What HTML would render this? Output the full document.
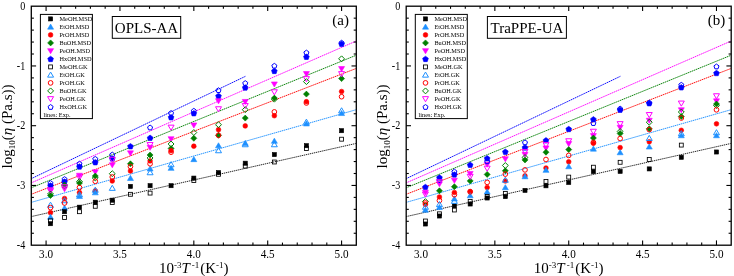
<!DOCTYPE html>
<html><head><meta charset="utf-8"><style>
html,body{margin:0;padding:0;background:#fff;}
svg{display:block;will-change:transform;}
text{font-family:"Liberation Serif",serif;fill:#000;}
.tl{font-size:11.5px;}
.tly{font-size:11px;}
.lg{font-size:6.3px;}
.tt{font-size:15px;}
.tg{font-size:15px;}
.al{font-size:15px;}
.sup{font-size:9px;}
.sub{font-size:9px;}
</style></head><body>
<svg width="734" height="276" viewBox="0 0 734 276">
<clipPath id="clip0"><rect x="31.3" y="6.2" width="325.0" height="239.0"/></clipPath>
<g clip-path="url(#clip0)">
<line x1="31.20" y1="216.6" x2="355.80" y2="143.5" stroke="#000000" stroke-width="0.85" stroke-dasharray="1.4 0.7"/>
<line x1="31.20" y1="202.4" x2="355.80" y2="109.8" stroke="#1E90FF" stroke-width="0.95" stroke-dasharray="1.5 0.6"/>
<line x1="31.20" y1="194.3" x2="355.80" y2="68.6" stroke="#FF0000" stroke-width="0.95" stroke-dasharray="1.5 0.6"/>
<line x1="31.20" y1="187.8" x2="355.80" y2="55.4" stroke="#008000" stroke-width="0.95" stroke-dasharray="1.5 0.6"/>
<line x1="31.20" y1="182.9" x2="355.80" y2="41.2" stroke="#FF00FF" stroke-width="0.95" stroke-dasharray="1.5 0.6"/>
<line x1="31.20" y1="178.7" x2="245.70" y2="76.2" stroke="#0000FF" stroke-width="0.95" stroke-dasharray="1.5 0.6"/>
<polygon points="50.51,182.80 53.36,184.87 52.27,188.23 48.74,188.23 47.65,184.87" fill="#0000FF" stroke="#0000FF" stroke-width="0.6"/>
<polygon points="50.51,193.85 47.51,188.75 53.51,188.75" fill="#FF00FF" stroke="#FF00FF" stroke-width="0.6"/>
<polygon points="50.51,192.50 53.51,195.50 50.51,198.50 47.51,195.50" fill="#008000" stroke="#008000" stroke-width="0.6"/>
<circle cx="50.51" cy="212.70" r="2.35" fill="#FF0000" stroke="#FF0000" stroke-width="0.6"/>
<polygon points="50.51,214.15 47.51,219.25 53.51,219.25" fill="#1E90FF" stroke="#1E90FF" stroke-width="0.6"/>
<rect x="48.46" y="221.65" width="4.1" height="4.1" fill="#000000" stroke="#000000" stroke-width="0.6"/>
<polygon points="50.51,180.65 53.03,182.48 52.07,185.44 48.95,185.44 47.99,182.48" fill="none" stroke="#0000FF" stroke-width="1.0"/>
<polygon points="50.51,192.85 47.51,187.75 53.51,187.75" fill="none" stroke="#FF00FF" stroke-width="1.0"/>
<polygon points="50.51,191.05 53.46,194.00 50.51,196.95 47.56,194.00" fill="none" stroke="#008000" stroke-width="1.0"/>
<polygon points="50.51,202.15 47.51,207.25 53.51,207.25" fill="none" stroke="#1E90FF" stroke-width="1.0"/>
<circle cx="50.51" cy="207.60" r="2.35" fill="none" stroke="#FF0000" stroke-width="1.0"/>
<rect x="48.56" y="218.85" width="3.9" height="3.9" fill="none" stroke="#000000" stroke-width="0.85"/>
<polygon points="64.54,178.80 67.40,180.87 66.31,184.23 62.78,184.23 61.69,180.87" fill="#0000FF" stroke="#0000FF" stroke-width="0.6"/>
<polygon points="64.54,182.00 67.54,185.00 64.54,188.00 61.54,185.00" fill="#008000" stroke="#008000" stroke-width="0.6"/>
<polygon points="64.54,191.85 61.54,186.75 67.54,186.75" fill="#FF00FF" stroke="#FF00FF" stroke-width="0.6"/>
<circle cx="64.54" cy="198.50" r="2.35" fill="#FF0000" stroke="#FF0000" stroke-width="0.6"/>
<polygon points="64.54,205.15 61.54,210.25 67.54,210.25" fill="#1E90FF" stroke="#1E90FF" stroke-width="0.6"/>
<rect x="62.49" y="209.65" width="4.1" height="4.1" fill="#000000" stroke="#000000" stroke-width="0.6"/>
<polygon points="64.54,176.65 67.06,178.48 66.10,181.44 62.99,181.44 62.02,178.48" fill="none" stroke="#0000FF" stroke-width="1.0"/>
<polygon points="64.54,183.05 67.49,186.00 64.54,188.95 61.59,186.00" fill="none" stroke="#008000" stroke-width="1.0"/>
<polygon points="64.54,189.85 61.54,184.75 67.54,184.75" fill="none" stroke="#FF00FF" stroke-width="1.0"/>
<polygon points="64.54,197.65 61.54,202.75 67.54,202.75" fill="none" stroke="#1E90FF" stroke-width="1.0"/>
<circle cx="64.54" cy="203.00" r="2.35" fill="none" stroke="#FF0000" stroke-width="1.0"/>
<rect x="62.59" y="215.55" width="3.9" height="3.9" fill="none" stroke="#000000" stroke-width="0.85"/>
<polygon points="79.47,163.80 82.32,165.87 81.23,169.23 77.70,169.23 76.61,165.87" fill="#0000FF" stroke="#0000FF" stroke-width="0.6"/>
<polygon points="79.47,178.35 76.47,173.25 82.47,173.25" fill="#FF00FF" stroke="#FF00FF" stroke-width="0.6"/>
<polygon points="79.47,180.00 82.47,183.00 79.47,186.00 76.47,183.00" fill="#008000" stroke="#008000" stroke-width="0.6"/>
<circle cx="79.47" cy="192.50" r="2.35" fill="#FF0000" stroke="#FF0000" stroke-width="0.6"/>
<polygon points="79.47,193.35 76.47,198.45 82.47,198.45" fill="#1E90FF" stroke="#1E90FF" stroke-width="0.6"/>
<rect x="77.42" y="205.15" width="4.1" height="4.1" fill="#000000" stroke="#000000" stroke-width="0.6"/>
<polygon points="79.47,161.25 81.99,163.08 81.02,166.04 77.91,166.04 76.95,163.08" fill="none" stroke="#0000FF" stroke-width="1.0"/>
<polygon points="79.47,180.05 76.47,174.95 82.47,174.95" fill="none" stroke="#FF00FF" stroke-width="1.0"/>
<polygon points="79.47,178.65 82.42,181.60 79.47,184.55 76.52,181.60" fill="none" stroke="#008000" stroke-width="1.0"/>
<circle cx="79.47" cy="187.50" r="2.35" fill="none" stroke="#FF0000" stroke-width="1.0"/>
<polygon points="79.47,191.65 76.47,196.75 82.47,196.75" fill="none" stroke="#1E90FF" stroke-width="1.0"/>
<rect x="77.52" y="209.75" width="3.9" height="3.9" fill="none" stroke="#000000" stroke-width="0.85"/>
<polygon points="95.28,159.50 98.13,161.57 97.04,164.93 93.51,164.93 92.42,161.57" fill="#0000FF" stroke="#0000FF" stroke-width="0.6"/>
<polygon points="95.28,174.85 92.28,169.75 98.28,169.75" fill="#FF00FF" stroke="#FF00FF" stroke-width="0.6"/>
<polygon points="95.28,173.00 98.28,176.00 95.28,179.00 92.28,176.00" fill="#008000" stroke="#008000" stroke-width="0.6"/>
<circle cx="95.28" cy="190.80" r="2.35" fill="#FF0000" stroke="#FF0000" stroke-width="0.6"/>
<polygon points="95.28,189.75 92.28,194.85 98.28,194.85" fill="#1E90FF" stroke="#1E90FF" stroke-width="0.6"/>
<rect x="93.23" y="200.15" width="4.1" height="4.1" fill="#000000" stroke="#000000" stroke-width="0.6"/>
<polygon points="95.28,156.45 97.80,158.28 96.83,161.24 93.72,161.24 92.76,158.28" fill="none" stroke="#0000FF" stroke-width="1.0"/>
<polygon points="95.28,175.05 98.23,178.00 95.28,180.95 92.33,178.00" fill="none" stroke="#008000" stroke-width="1.0"/>
<circle cx="95.28" cy="181.30" r="2.35" fill="none" stroke="#FF0000" stroke-width="1.0"/>
<polygon points="95.28,187.15 92.28,192.25 98.28,192.25" fill="none" stroke="#1E90FF" stroke-width="1.0"/>
<rect x="93.33" y="204.35" width="3.9" height="3.9" fill="none" stroke="#000000" stroke-width="0.85"/>
<polygon points="112.27,155.70 115.12,157.77 114.03,161.13 110.50,161.13 109.41,157.77" fill="#0000FF" stroke="#0000FF" stroke-width="0.6"/>
<polygon points="112.27,167.85 109.27,162.75 115.27,162.75" fill="#FF00FF" stroke="#FF00FF" stroke-width="0.6"/>
<circle cx="112.27" cy="181.00" r="2.35" fill="#FF0000" stroke="#FF0000" stroke-width="0.6"/>
<rect x="110.22" y="198.15" width="4.1" height="4.1" fill="#000000" stroke="#000000" stroke-width="0.6"/>
<polygon points="112.27,152.15 114.79,153.98 113.82,156.94 110.71,156.94 109.75,153.98" fill="none" stroke="#0000FF" stroke-width="1.0"/>
<polygon points="112.27,162.35 109.27,157.25 115.27,157.25" fill="none" stroke="#FF00FF" stroke-width="1.0"/>
<polygon points="112.27,170.75 115.22,173.70 112.27,176.65 109.32,173.70" fill="none" stroke="#008000" stroke-width="1.0"/>
<circle cx="112.27" cy="177.00" r="2.35" fill="none" stroke="#FF0000" stroke-width="1.0"/>
<polygon points="112.27,185.25 109.27,190.35 115.27,190.35" fill="none" stroke="#1E90FF" stroke-width="1.0"/>
<rect x="110.32" y="200.55" width="3.9" height="3.9" fill="none" stroke="#000000" stroke-width="0.85"/>
<polygon points="130.44,143.50 133.29,145.57 132.20,148.93 128.68,148.93 127.59,145.57" fill="#0000FF" stroke="#0000FF" stroke-width="0.6"/>
<polygon points="130.44,155.95 127.44,150.85 133.44,150.85" fill="#FF00FF" stroke="#FF00FF" stroke-width="0.6"/>
<polygon points="130.44,160.80 133.44,163.80 130.44,166.80 127.44,163.80" fill="#008000" stroke="#008000" stroke-width="0.6"/>
<circle cx="130.44" cy="171.00" r="2.35" fill="#FF0000" stroke="#FF0000" stroke-width="0.6"/>
<polygon points="130.44,175.35 127.44,180.45 133.44,180.45" fill="#1E90FF" stroke="#1E90FF" stroke-width="0.6"/>
<rect x="128.39" y="184.35" width="4.1" height="4.1" fill="#000000" stroke="#000000" stroke-width="0.6"/>
<circle cx="130.44" cy="166.60" r="2.35" fill="none" stroke="#FF0000" stroke-width="1.0"/>
<rect x="128.49" y="192.35" width="3.9" height="3.9" fill="none" stroke="#000000" stroke-width="0.85"/>
<polygon points="150.09,135.10 152.94,137.17 151.85,140.53 148.33,140.53 147.24,137.17" fill="#0000FF" stroke="#0000FF" stroke-width="0.6"/>
<polygon points="150.09,150.35 147.09,145.25 153.09,145.25" fill="#FF00FF" stroke="#FF00FF" stroke-width="0.6"/>
<polygon points="150.09,152.00 153.09,155.00 150.09,158.00 147.09,155.00" fill="#008000" stroke="#008000" stroke-width="0.6"/>
<circle cx="150.09" cy="160.90" r="2.35" fill="#FF0000" stroke="#FF0000" stroke-width="0.6"/>
<polygon points="150.09,165.95 147.09,171.05 153.09,171.05" fill="#1E90FF" stroke="#1E90FF" stroke-width="0.6"/>
<rect x="148.04" y="183.65" width="4.1" height="4.1" fill="#000000" stroke="#000000" stroke-width="0.6"/>
<polygon points="150.09,125.05 152.61,126.88 151.65,129.84 148.53,129.84 147.57,126.88" fill="none" stroke="#0000FF" stroke-width="1.0"/>
<polygon points="150.09,147.65 147.09,142.55 153.09,142.55" fill="none" stroke="#FF00FF" stroke-width="1.0"/>
<polygon points="150.09,155.05 153.04,158.00 150.09,160.95 147.14,158.00" fill="none" stroke="#008000" stroke-width="1.0"/>
<circle cx="150.09" cy="163.80" r="2.35" fill="none" stroke="#FF0000" stroke-width="1.0"/>
<polygon points="150.09,169.65 147.09,174.75 153.09,174.75" fill="none" stroke="#1E90FF" stroke-width="1.0"/>
<rect x="148.14" y="191.15" width="3.9" height="3.9" fill="none" stroke="#000000" stroke-width="0.85"/>
<polygon points="171.07,114.50 173.92,116.57 172.83,119.93 169.31,119.93 168.22,116.57" fill="#0000FF" stroke="#0000FF" stroke-width="0.6"/>
<polygon points="171.07,141.85 168.07,136.75 174.07,136.75" fill="#FF00FF" stroke="#FF00FF" stroke-width="0.6"/>
<polygon points="171.07,145.40 174.07,148.40 171.07,151.40 168.07,148.40" fill="#008000" stroke="#008000" stroke-width="0.6"/>
<circle cx="171.07" cy="150.70" r="2.35" fill="#FF0000" stroke="#FF0000" stroke-width="0.6"/>
<polygon points="171.07,165.25 168.07,170.35 174.07,170.35" fill="#1E90FF" stroke="#1E90FF" stroke-width="0.6"/>
<rect x="169.02" y="183.65" width="4.1" height="4.1" fill="#000000" stroke="#000000" stroke-width="0.6"/>
<polygon points="171.07,110.55 173.59,112.38 172.63,115.34 169.51,115.34 168.55,112.38" fill="none" stroke="#0000FF" stroke-width="1.0"/>
<polygon points="171.07,130.25 168.07,125.15 174.07,125.15" fill="none" stroke="#FF00FF" stroke-width="1.0"/>
<polygon points="171.07,141.05 174.02,144.00 171.07,146.95 168.12,144.00" fill="none" stroke="#008000" stroke-width="1.0"/>
<circle cx="171.07" cy="152.20" r="2.35" fill="none" stroke="#FF0000" stroke-width="1.0"/>
<polygon points="171.07,161.65 168.07,166.75 174.07,166.75" fill="none" stroke="#1E90FF" stroke-width="1.0"/>
<polygon points="193.83,110.50 196.68,112.57 195.59,115.93 192.06,115.93 190.97,112.57" fill="#0000FF" stroke="#0000FF" stroke-width="0.6"/>
<polygon points="193.83,128.05 190.83,122.95 196.83,122.95" fill="#FF00FF" stroke="#FF00FF" stroke-width="0.6"/>
<polygon points="193.83,135.30 196.83,138.30 193.83,141.30 190.83,138.30" fill="#008000" stroke="#008000" stroke-width="0.6"/>
<circle cx="193.83" cy="146.20" r="2.35" fill="#FF0000" stroke="#FF0000" stroke-width="0.6"/>
<polygon points="193.83,156.55 190.83,161.65 196.83,161.65" fill="#1E90FF" stroke="#1E90FF" stroke-width="0.6"/>
<rect x="191.78" y="176.05" width="4.1" height="4.1" fill="#000000" stroke="#000000" stroke-width="0.6"/>
<polygon points="193.83,108.35 196.35,110.18 195.38,113.14 192.27,113.14 191.30,110.18" fill="none" stroke="#0000FF" stroke-width="1.0"/>
<polygon points="193.83,129.55 196.78,132.50 193.83,135.45 190.88,132.50" fill="none" stroke="#008000" stroke-width="1.0"/>
<rect x="191.88" y="178.65" width="3.9" height="3.9" fill="none" stroke="#000000" stroke-width="0.85"/>
<polygon points="218.50,93.20 221.35,95.27 220.26,98.63 216.74,98.63 215.65,95.27" fill="#0000FF" stroke="#0000FF" stroke-width="0.6"/>
<polygon points="218.50,103.85 215.50,98.75 221.50,98.75" fill="#FF00FF" stroke="#FF00FF" stroke-width="0.6"/>
<circle cx="218.50" cy="129.70" r="2.35" fill="#FF0000" stroke="#FF0000" stroke-width="0.6"/>
<polygon points="218.50,132.30 221.50,135.30 218.50,138.30 215.50,135.30" fill="#008000" stroke="#008000" stroke-width="0.6"/>
<polygon points="218.50,142.75 215.50,147.85 221.50,147.85" fill="#1E90FF" stroke="#1E90FF" stroke-width="0.6"/>
<rect x="216.45" y="170.55" width="4.1" height="4.1" fill="#000000" stroke="#000000" stroke-width="0.6"/>
<polygon points="218.50,87.75 221.02,89.58 220.06,92.54 216.94,92.54 215.98,89.58" fill="none" stroke="#0000FF" stroke-width="1.0"/>
<polygon points="218.50,111.85 215.50,106.75 221.50,106.75" fill="none" stroke="#FF00FF" stroke-width="1.0"/>
<polygon points="218.50,121.75 221.45,124.70 218.50,127.65 215.55,124.70" fill="none" stroke="#008000" stroke-width="1.0"/>
<circle cx="218.50" cy="135.30" r="2.35" fill="none" stroke="#FF0000" stroke-width="1.0"/>
<polygon points="218.50,147.65 215.50,152.75 221.50,152.75" fill="none" stroke="#1E90FF" stroke-width="1.0"/>
<rect x="216.55" y="172.35" width="3.9" height="3.9" fill="none" stroke="#000000" stroke-width="0.85"/>
<polygon points="245.24,84.80 248.10,86.87 247.01,90.23 243.48,90.23 242.39,86.87" fill="#0000FF" stroke="#0000FF" stroke-width="0.6"/>
<polygon points="245.24,104.55 242.24,99.45 248.24,99.45" fill="#FF00FF" stroke="#FF00FF" stroke-width="0.6"/>
<polygon points="245.24,115.10 248.24,118.10 245.24,121.10 242.24,118.10" fill="#008000" stroke="#008000" stroke-width="0.6"/>
<circle cx="245.24" cy="125.90" r="2.35" fill="#FF0000" stroke="#FF0000" stroke-width="0.6"/>
<polygon points="245.24,140.35 242.24,145.45 248.24,145.45" fill="#1E90FF" stroke="#1E90FF" stroke-width="0.6"/>
<rect x="243.19" y="161.15" width="4.1" height="4.1" fill="#000000" stroke="#000000" stroke-width="0.6"/>
<polygon points="245.24,80.65 247.76,82.48 246.80,85.44 243.68,85.44 242.72,82.48" fill="none" stroke="#0000FF" stroke-width="1.0"/>
<polygon points="245.24,108.65 242.24,103.55 248.24,103.55" fill="none" stroke="#FF00FF" stroke-width="1.0"/>
<polygon points="245.24,106.75 248.19,109.70 245.24,112.65 242.29,109.70" fill="none" stroke="#008000" stroke-width="1.0"/>
<polygon points="245.24,141.65 242.24,146.75 248.24,146.75" fill="none" stroke="#1E90FF" stroke-width="1.0"/>
<rect x="243.29" y="164.15" width="3.9" height="3.9" fill="none" stroke="#000000" stroke-width="0.85"/>
<polygon points="274.35,68.20 277.20,70.27 276.11,73.63 272.59,73.63 271.50,70.27" fill="#0000FF" stroke="#0000FF" stroke-width="0.6"/>
<polygon points="274.35,87.05 271.35,81.95 277.35,81.95" fill="#FF00FF" stroke="#FF00FF" stroke-width="0.6"/>
<polygon points="274.35,95.10 277.35,98.10 274.35,101.10 271.35,98.10" fill="#008000" stroke="#008000" stroke-width="0.6"/>
<circle cx="274.35" cy="115.70" r="2.35" fill="#FF0000" stroke="#FF0000" stroke-width="0.6"/>
<polygon points="274.35,138.15 271.35,143.25 277.35,143.25" fill="#1E90FF" stroke="#1E90FF" stroke-width="0.6"/>
<rect x="272.30" y="152.55" width="4.1" height="4.1" fill="#000000" stroke="#000000" stroke-width="0.6"/>
<polygon points="274.35,63.35 276.87,65.18 275.91,68.14 272.79,68.14 271.83,65.18" fill="none" stroke="#0000FF" stroke-width="1.0"/>
<polygon points="274.35,94.85 271.35,89.75 277.35,89.75" fill="none" stroke="#FF00FF" stroke-width="1.0"/>
<polygon points="274.35,96.25 277.30,99.20 274.35,102.15 271.40,99.20" fill="none" stroke="#008000" stroke-width="1.0"/>
<circle cx="274.35" cy="111.90" r="2.35" fill="none" stroke="#FF0000" stroke-width="1.0"/>
<polygon points="274.35,141.65 271.35,146.75 277.35,146.75" fill="none" stroke="#1E90FF" stroke-width="1.0"/>
<rect x="272.40" y="160.05" width="3.9" height="3.9" fill="none" stroke="#000000" stroke-width="0.85"/>
<polygon points="306.41,54.10 309.26,56.17 308.17,59.53 304.65,59.53 303.56,56.17" fill="#0000FF" stroke="#0000FF" stroke-width="0.6"/>
<polygon points="306.41,76.65 303.41,71.55 309.41,71.55" fill="#FF00FF" stroke="#FF00FF" stroke-width="0.6"/>
<polygon points="306.41,91.10 309.41,94.10 306.41,97.10 303.41,94.10" fill="#008000" stroke="#008000" stroke-width="0.6"/>
<circle cx="306.41" cy="101.70" r="2.35" fill="#FF0000" stroke="#FF0000" stroke-width="0.6"/>
<polygon points="306.41,120.85 303.41,125.95 309.41,125.95" fill="#1E90FF" stroke="#1E90FF" stroke-width="0.6"/>
<rect x="304.36" y="143.65" width="4.1" height="4.1" fill="#000000" stroke="#000000" stroke-width="0.6"/>
<polygon points="306.41,50.15 308.93,51.98 307.97,54.94 304.85,54.94 303.89,51.98" fill="none" stroke="#0000FF" stroke-width="1.0"/>
<polygon points="306.41,81.75 303.41,76.65 309.41,76.65" fill="none" stroke="#FF00FF" stroke-width="1.0"/>
<polygon points="306.41,78.65 309.36,81.60 306.41,84.55 303.46,81.60" fill="none" stroke="#008000" stroke-width="1.0"/>
<circle cx="306.41" cy="103.00" r="2.35" fill="none" stroke="#FF0000" stroke-width="1.0"/>
<polygon points="306.41,119.15 303.41,124.25 309.41,124.25" fill="none" stroke="#1E90FF" stroke-width="1.0"/>
<rect x="304.46" y="146.55" width="3.9" height="3.9" fill="none" stroke="#000000" stroke-width="0.85"/>
<polygon points="341.58,41.10 344.43,43.17 343.34,46.53 339.81,46.53 338.72,43.17" fill="#0000FF" stroke="#0000FF" stroke-width="0.6"/>
<polygon points="341.58,71.65 338.58,66.55 344.58,66.55" fill="#FF00FF" stroke="#FF00FF" stroke-width="0.6"/>
<polygon points="341.58,75.60 344.58,78.60 341.58,81.60 338.58,78.60" fill="#008000" stroke="#008000" stroke-width="0.6"/>
<circle cx="341.58" cy="91.50" r="2.35" fill="#FF0000" stroke="#FF0000" stroke-width="0.6"/>
<polygon points="341.58,110.45 338.58,115.55 344.58,115.55" fill="#1E90FF" stroke="#1E90FF" stroke-width="0.6"/>
<rect x="339.53" y="128.65" width="4.1" height="4.1" fill="#000000" stroke="#000000" stroke-width="0.6"/>
<polygon points="341.58,40.25 344.10,42.08 343.13,45.04 340.02,45.04 339.05,42.08" fill="none" stroke="#0000FF" stroke-width="1.0"/>
<polygon points="341.58,55.85 344.53,58.80 341.58,61.75 338.63,58.80" fill="none" stroke="#008000" stroke-width="1.0"/>
<polygon points="341.58,76.75 338.58,71.65 344.58,71.65" fill="none" stroke="#FF00FF" stroke-width="1.0"/>
<circle cx="341.58" cy="96.70" r="2.35" fill="none" stroke="#FF0000" stroke-width="1.0"/>
<polygon points="341.58,107.75 338.58,112.85 344.58,112.85" fill="none" stroke="#1E90FF" stroke-width="1.0"/>
<rect x="339.63" y="137.25" width="3.9" height="3.9" fill="none" stroke="#000000" stroke-width="0.85"/>
</g>
<rect x="31.3" y="6.2" width="325.0" height="239.0" fill="none" stroke="#000" stroke-width="1.3"/>
<line x1="46.08" y1="245.2" x2="46.08" y2="240.39999999999998" stroke="#000" stroke-width="1.1"/>
<line x1="46.08" y1="6.2" x2="46.08" y2="11.0" stroke="#000" stroke-width="1.1"/>
<text transform="translate(46.08,258.0) scale(0.97,1.07)" text-anchor="middle" class="tl">3.0</text>
<line x1="60.85" y1="245.2" x2="60.85" y2="242.6" stroke="#000" stroke-width="1.1"/>
<line x1="60.85" y1="6.2" x2="60.85" y2="8.8" stroke="#000" stroke-width="1.1"/>
<line x1="75.63" y1="245.2" x2="75.63" y2="242.6" stroke="#000" stroke-width="1.1"/>
<line x1="75.63" y1="6.2" x2="75.63" y2="8.8" stroke="#000" stroke-width="1.1"/>
<line x1="90.40" y1="245.2" x2="90.40" y2="242.6" stroke="#000" stroke-width="1.1"/>
<line x1="90.40" y1="6.2" x2="90.40" y2="8.8" stroke="#000" stroke-width="1.1"/>
<line x1="105.17" y1="245.2" x2="105.17" y2="242.6" stroke="#000" stroke-width="1.1"/>
<line x1="105.17" y1="6.2" x2="105.17" y2="8.8" stroke="#000" stroke-width="1.1"/>
<line x1="119.95" y1="245.2" x2="119.95" y2="240.39999999999998" stroke="#000" stroke-width="1.1"/>
<line x1="119.95" y1="6.2" x2="119.95" y2="11.0" stroke="#000" stroke-width="1.1"/>
<text transform="translate(119.95,258.0) scale(0.97,1.07)" text-anchor="middle" class="tl">3.5</text>
<line x1="134.73" y1="245.2" x2="134.73" y2="242.6" stroke="#000" stroke-width="1.1"/>
<line x1="134.73" y1="6.2" x2="134.73" y2="8.8" stroke="#000" stroke-width="1.1"/>
<line x1="149.50" y1="245.2" x2="149.50" y2="242.6" stroke="#000" stroke-width="1.1"/>
<line x1="149.50" y1="6.2" x2="149.50" y2="8.8" stroke="#000" stroke-width="1.1"/>
<line x1="164.28" y1="245.2" x2="164.28" y2="242.6" stroke="#000" stroke-width="1.1"/>
<line x1="164.28" y1="6.2" x2="164.28" y2="8.8" stroke="#000" stroke-width="1.1"/>
<line x1="179.05" y1="245.2" x2="179.05" y2="242.6" stroke="#000" stroke-width="1.1"/>
<line x1="179.05" y1="6.2" x2="179.05" y2="8.8" stroke="#000" stroke-width="1.1"/>
<line x1="193.83" y1="245.2" x2="193.83" y2="240.39999999999998" stroke="#000" stroke-width="1.1"/>
<line x1="193.83" y1="6.2" x2="193.83" y2="11.0" stroke="#000" stroke-width="1.1"/>
<text transform="translate(193.83,258.0) scale(0.97,1.07)" text-anchor="middle" class="tl">4.0</text>
<line x1="208.60" y1="245.2" x2="208.60" y2="242.6" stroke="#000" stroke-width="1.1"/>
<line x1="208.60" y1="6.2" x2="208.60" y2="8.8" stroke="#000" stroke-width="1.1"/>
<line x1="223.38" y1="245.2" x2="223.38" y2="242.6" stroke="#000" stroke-width="1.1"/>
<line x1="223.38" y1="6.2" x2="223.38" y2="8.8" stroke="#000" stroke-width="1.1"/>
<line x1="238.15" y1="245.2" x2="238.15" y2="242.6" stroke="#000" stroke-width="1.1"/>
<line x1="238.15" y1="6.2" x2="238.15" y2="8.8" stroke="#000" stroke-width="1.1"/>
<line x1="252.93" y1="245.2" x2="252.93" y2="242.6" stroke="#000" stroke-width="1.1"/>
<line x1="252.93" y1="6.2" x2="252.93" y2="8.8" stroke="#000" stroke-width="1.1"/>
<line x1="267.70" y1="245.2" x2="267.70" y2="240.39999999999998" stroke="#000" stroke-width="1.1"/>
<line x1="267.70" y1="6.2" x2="267.70" y2="11.0" stroke="#000" stroke-width="1.1"/>
<text transform="translate(267.70,258.0) scale(0.97,1.07)" text-anchor="middle" class="tl">4.5</text>
<line x1="282.47" y1="245.2" x2="282.47" y2="242.6" stroke="#000" stroke-width="1.1"/>
<line x1="282.47" y1="6.2" x2="282.47" y2="8.8" stroke="#000" stroke-width="1.1"/>
<line x1="297.25" y1="245.2" x2="297.25" y2="242.6" stroke="#000" stroke-width="1.1"/>
<line x1="297.25" y1="6.2" x2="297.25" y2="8.8" stroke="#000" stroke-width="1.1"/>
<line x1="312.02" y1="245.2" x2="312.02" y2="242.6" stroke="#000" stroke-width="1.1"/>
<line x1="312.02" y1="6.2" x2="312.02" y2="8.8" stroke="#000" stroke-width="1.1"/>
<line x1="326.80" y1="245.2" x2="326.80" y2="242.6" stroke="#000" stroke-width="1.1"/>
<line x1="326.80" y1="6.2" x2="326.80" y2="8.8" stroke="#000" stroke-width="1.1"/>
<line x1="341.58" y1="245.2" x2="341.58" y2="240.39999999999998" stroke="#000" stroke-width="1.1"/>
<line x1="341.58" y1="6.2" x2="341.58" y2="11.0" stroke="#000" stroke-width="1.1"/>
<text transform="translate(341.58,258.0) scale(0.97,1.07)" text-anchor="middle" class="tl">5.0</text>
<text transform="translate(25.30,248.90) scale(0.92,1.13)" text-anchor="end" class="tly"><tspan dy="-0.6">-</tspan><tspan dy="0.6">4</tspan></text>
<line x1="31.3" y1="233.25" x2="33.9" y2="233.25" stroke="#000" stroke-width="1.1"/>
<line x1="356.3" y1="233.25" x2="353.7" y2="233.25" stroke="#000" stroke-width="1.1"/>
<line x1="31.3" y1="221.30" x2="33.9" y2="221.30" stroke="#000" stroke-width="1.1"/>
<line x1="356.3" y1="221.30" x2="353.7" y2="221.30" stroke="#000" stroke-width="1.1"/>
<line x1="31.3" y1="209.35" x2="33.9" y2="209.35" stroke="#000" stroke-width="1.1"/>
<line x1="356.3" y1="209.35" x2="353.7" y2="209.35" stroke="#000" stroke-width="1.1"/>
<line x1="31.3" y1="197.40" x2="33.9" y2="197.40" stroke="#000" stroke-width="1.1"/>
<line x1="356.3" y1="197.40" x2="353.7" y2="197.40" stroke="#000" stroke-width="1.1"/>
<line x1="31.3" y1="185.45" x2="36.1" y2="185.45" stroke="#000" stroke-width="1.1"/>
<line x1="356.3" y1="185.45" x2="351.5" y2="185.45" stroke="#000" stroke-width="1.1"/>
<text transform="translate(25.30,189.15) scale(0.92,1.13)" text-anchor="end" class="tly"><tspan dy="-0.6">-</tspan><tspan dy="0.6">3</tspan></text>
<line x1="31.3" y1="173.50" x2="33.9" y2="173.50" stroke="#000" stroke-width="1.1"/>
<line x1="356.3" y1="173.50" x2="353.7" y2="173.50" stroke="#000" stroke-width="1.1"/>
<line x1="31.3" y1="161.55" x2="33.9" y2="161.55" stroke="#000" stroke-width="1.1"/>
<line x1="356.3" y1="161.55" x2="353.7" y2="161.55" stroke="#000" stroke-width="1.1"/>
<line x1="31.3" y1="149.60" x2="33.9" y2="149.60" stroke="#000" stroke-width="1.1"/>
<line x1="356.3" y1="149.60" x2="353.7" y2="149.60" stroke="#000" stroke-width="1.1"/>
<line x1="31.3" y1="137.65" x2="33.9" y2="137.65" stroke="#000" stroke-width="1.1"/>
<line x1="356.3" y1="137.65" x2="353.7" y2="137.65" stroke="#000" stroke-width="1.1"/>
<line x1="31.3" y1="125.70" x2="36.1" y2="125.70" stroke="#000" stroke-width="1.1"/>
<line x1="356.3" y1="125.70" x2="351.5" y2="125.70" stroke="#000" stroke-width="1.1"/>
<text transform="translate(25.30,129.40) scale(0.92,1.13)" text-anchor="end" class="tly"><tspan dy="-0.6">-</tspan><tspan dy="0.6">2</tspan></text>
<line x1="31.3" y1="113.75" x2="33.9" y2="113.75" stroke="#000" stroke-width="1.1"/>
<line x1="356.3" y1="113.75" x2="353.7" y2="113.75" stroke="#000" stroke-width="1.1"/>
<line x1="31.3" y1="101.80" x2="33.9" y2="101.80" stroke="#000" stroke-width="1.1"/>
<line x1="356.3" y1="101.80" x2="353.7" y2="101.80" stroke="#000" stroke-width="1.1"/>
<line x1="31.3" y1="89.85" x2="33.9" y2="89.85" stroke="#000" stroke-width="1.1"/>
<line x1="356.3" y1="89.85" x2="353.7" y2="89.85" stroke="#000" stroke-width="1.1"/>
<line x1="31.3" y1="77.90" x2="33.9" y2="77.90" stroke="#000" stroke-width="1.1"/>
<line x1="356.3" y1="77.90" x2="353.7" y2="77.90" stroke="#000" stroke-width="1.1"/>
<line x1="31.3" y1="65.95" x2="36.1" y2="65.95" stroke="#000" stroke-width="1.1"/>
<line x1="356.3" y1="65.95" x2="351.5" y2="65.95" stroke="#000" stroke-width="1.1"/>
<text transform="translate(25.30,69.65) scale(0.92,1.13)" text-anchor="end" class="tly"><tspan dy="-0.6">-</tspan><tspan dy="0.6">1</tspan></text>
<line x1="31.3" y1="54.00" x2="33.9" y2="54.00" stroke="#000" stroke-width="1.1"/>
<line x1="356.3" y1="54.00" x2="353.7" y2="54.00" stroke="#000" stroke-width="1.1"/>
<line x1="31.3" y1="42.05" x2="33.9" y2="42.05" stroke="#000" stroke-width="1.1"/>
<line x1="356.3" y1="42.05" x2="353.7" y2="42.05" stroke="#000" stroke-width="1.1"/>
<line x1="31.3" y1="30.10" x2="33.9" y2="30.10" stroke="#000" stroke-width="1.1"/>
<line x1="356.3" y1="30.10" x2="353.7" y2="30.10" stroke="#000" stroke-width="1.1"/>
<line x1="31.3" y1="18.15" x2="33.9" y2="18.15" stroke="#000" stroke-width="1.1"/>
<line x1="356.3" y1="18.15" x2="353.7" y2="18.15" stroke="#000" stroke-width="1.1"/>
<text transform="translate(25.30,9.90) scale(0.92,1.13)" text-anchor="end" class="tly">0</text>
<clipPath id="clip1"><rect x="406.2" y="6.2" width="325.0" height="239.0"/></clipPath>
<g clip-path="url(#clip1)">
<line x1="406.10" y1="216.6" x2="730.70" y2="143.5" stroke="#000000" stroke-width="0.85" stroke-dasharray="1.4 0.7"/>
<line x1="406.10" y1="202.4" x2="730.70" y2="109.8" stroke="#1E90FF" stroke-width="0.95" stroke-dasharray="1.5 0.6"/>
<line x1="406.10" y1="194.3" x2="730.70" y2="68.6" stroke="#FF0000" stroke-width="0.95" stroke-dasharray="1.5 0.6"/>
<line x1="406.10" y1="187.8" x2="730.70" y2="55.4" stroke="#008000" stroke-width="0.95" stroke-dasharray="1.5 0.6"/>
<line x1="406.10" y1="182.9" x2="730.70" y2="41.2" stroke="#FF00FF" stroke-width="0.95" stroke-dasharray="1.5 0.6"/>
<line x1="406.10" y1="178.7" x2="620.60" y2="76.2" stroke="#0000FF" stroke-width="0.95" stroke-dasharray="1.5 0.6"/>
<polygon points="425.41,184.30 428.26,186.37 427.17,189.73 423.64,189.73 422.55,186.37" fill="#0000FF" stroke="#0000FF" stroke-width="0.6"/>
<polygon points="425.41,195.35 422.41,190.25 428.41,190.25" fill="#FF00FF" stroke="#FF00FF" stroke-width="0.6"/>
<circle cx="425.41" cy="204.50" r="2.35" fill="#FF0000" stroke="#FF0000" stroke-width="0.6"/>
<polygon points="425.41,207.15 422.41,212.25 428.41,212.25" fill="#1E90FF" stroke="#1E90FF" stroke-width="0.6"/>
<rect x="423.36" y="221.95" width="4.1" height="4.1" fill="#000000" stroke="#000000" stroke-width="0.6"/>
<polygon points="425.41,197.15 422.41,192.05 428.41,192.05" fill="none" stroke="#FF00FF" stroke-width="1.0"/>
<polygon points="425.41,198.65 428.36,201.60 425.41,204.55 422.46,201.60" fill="none" stroke="#008000" stroke-width="1.0"/>
<circle cx="425.41" cy="203.00" r="2.35" fill="none" stroke="#FF0000" stroke-width="1.0"/>
<polygon points="425.41,204.15 422.41,209.25 428.41,209.25" fill="none" stroke="#1E90FF" stroke-width="1.0"/>
<rect x="423.46" y="219.05" width="3.9" height="3.9" fill="none" stroke="#000000" stroke-width="0.85"/>
<polygon points="439.44,174.80 442.30,176.87 441.21,180.23 437.68,180.23 436.59,176.87" fill="#0000FF" stroke="#0000FF" stroke-width="0.6"/>
<polygon points="439.44,186.85 436.44,181.75 442.44,181.75" fill="#FF00FF" stroke="#FF00FF" stroke-width="0.6"/>
<polygon points="439.44,187.80 442.44,190.80 439.44,193.80 436.44,190.80" fill="#008000" stroke="#008000" stroke-width="0.6"/>
<circle cx="439.44" cy="197.00" r="2.35" fill="#FF0000" stroke="#FF0000" stroke-width="0.6"/>
<polygon points="439.44,204.45 436.44,209.55 442.44,209.55" fill="#1E90FF" stroke="#1E90FF" stroke-width="0.6"/>
<rect x="437.39" y="213.95" width="4.1" height="4.1" fill="#000000" stroke="#000000" stroke-width="0.6"/>
<polygon points="439.44,177.65 441.96,179.48 441.00,182.44 437.89,182.44 436.92,179.48" fill="none" stroke="#0000FF" stroke-width="1.0"/>
<polygon points="439.44,184.85 436.44,179.75 442.44,179.75" fill="none" stroke="#FF00FF" stroke-width="1.0"/>
<circle cx="439.44" cy="200.50" r="2.35" fill="none" stroke="#FF0000" stroke-width="1.0"/>
<polygon points="439.44,201.55 436.44,206.65 442.44,206.65" fill="none" stroke="#1E90FF" stroke-width="1.0"/>
<rect x="437.49" y="211.85" width="3.9" height="3.9" fill="none" stroke="#000000" stroke-width="0.85"/>
<polygon points="454.37,171.80 457.22,173.87 456.13,177.23 452.60,177.23 451.51,173.87" fill="#0000FF" stroke="#0000FF" stroke-width="0.6"/>
<polygon points="454.37,183.35 451.37,178.25 457.37,178.25" fill="#FF00FF" stroke="#FF00FF" stroke-width="0.6"/>
<polygon points="454.37,183.70 457.37,186.70 454.37,189.70 451.37,186.70" fill="#008000" stroke="#008000" stroke-width="0.6"/>
<circle cx="454.37" cy="192.50" r="2.35" fill="#FF0000" stroke="#FF0000" stroke-width="0.6"/>
<polygon points="454.37,195.95 451.37,201.05 457.37,201.05" fill="#1E90FF" stroke="#1E90FF" stroke-width="0.6"/>
<rect x="452.32" y="203.85" width="4.1" height="4.1" fill="#000000" stroke="#000000" stroke-width="0.6"/>
<polygon points="454.37,169.15 456.89,170.98 455.92,173.94 452.81,173.94 451.85,170.98" fill="none" stroke="#0000FF" stroke-width="1.0"/>
<circle cx="454.37" cy="194.70" r="2.35" fill="none" stroke="#FF0000" stroke-width="1.0"/>
<polygon points="454.37,198.25 451.37,203.35 457.37,203.35" fill="none" stroke="#1E90FF" stroke-width="1.0"/>
<rect x="452.42" y="208.05" width="3.9" height="3.9" fill="none" stroke="#000000" stroke-width="0.85"/>
<polygon points="470.18,162.10 473.03,164.17 471.94,167.53 468.41,167.53 467.32,164.17" fill="#0000FF" stroke="#0000FF" stroke-width="0.6"/>
<polygon points="470.18,176.55 467.18,171.45 473.18,171.45" fill="#FF00FF" stroke="#FF00FF" stroke-width="0.6"/>
<polygon points="470.18,177.90 473.18,180.90 470.18,183.90 467.18,180.90" fill="#008000" stroke="#008000" stroke-width="0.6"/>
<circle cx="470.18" cy="191.50" r="2.35" fill="#FF0000" stroke="#FF0000" stroke-width="0.6"/>
<polygon points="470.18,192.75 467.18,197.85 473.18,197.85" fill="#1E90FF" stroke="#1E90FF" stroke-width="0.6"/>
<rect x="468.13" y="201.95" width="4.1" height="4.1" fill="#000000" stroke="#000000" stroke-width="0.6"/>
<polygon points="470.18,179.45 467.18,174.35 473.18,174.35" fill="none" stroke="#FF00FF" stroke-width="1.0"/>
<circle cx="470.18" cy="191.80" r="2.35" fill="none" stroke="#FF0000" stroke-width="1.0"/>
<rect x="468.23" y="199.55" width="3.9" height="3.9" fill="none" stroke="#000000" stroke-width="0.85"/>
<polygon points="487.17,155.60 490.02,157.67 488.93,161.03 485.40,161.03 484.31,157.67" fill="#0000FF" stroke="#0000FF" stroke-width="0.6"/>
<polygon points="487.17,167.35 484.17,162.25 490.17,162.25" fill="#FF00FF" stroke="#FF00FF" stroke-width="0.6"/>
<polygon points="487.17,171.40 490.17,174.40 487.17,177.40 484.17,174.40" fill="#008000" stroke="#008000" stroke-width="0.6"/>
<circle cx="487.17" cy="187.50" r="2.35" fill="#FF0000" stroke="#FF0000" stroke-width="0.6"/>
<polygon points="487.17,188.95 484.17,194.05 490.17,194.05" fill="#1E90FF" stroke="#1E90FF" stroke-width="0.6"/>
<rect x="485.12" y="195.95" width="4.1" height="4.1" fill="#000000" stroke="#000000" stroke-width="0.6"/>
<polygon points="487.17,158.85 489.69,160.68 488.72,163.64 485.61,163.64 484.65,160.68" fill="none" stroke="#0000FF" stroke-width="1.0"/>
<polygon points="487.17,171.25 484.17,166.15 490.17,166.15" fill="none" stroke="#FF00FF" stroke-width="1.0"/>
<circle cx="487.17" cy="182.40" r="2.35" fill="none" stroke="#FF0000" stroke-width="1.0"/>
<rect x="485.22" y="194.45" width="3.9" height="3.9" fill="none" stroke="#000000" stroke-width="0.85"/>
<polygon points="505.34,149.00 508.19,151.07 507.10,154.43 503.58,154.43 502.49,151.07" fill="#0000FF" stroke="#0000FF" stroke-width="0.6"/>
<polygon points="505.34,161.85 502.34,156.75 508.34,156.75" fill="#FF00FF" stroke="#FF00FF" stroke-width="0.6"/>
<polygon points="505.34,167.80 508.34,170.80 505.34,173.80 502.34,170.80" fill="#008000" stroke="#008000" stroke-width="0.6"/>
<circle cx="505.34" cy="181.00" r="2.35" fill="#FF0000" stroke="#FF0000" stroke-width="0.6"/>
<polygon points="505.34,184.65 502.34,189.75 508.34,189.75" fill="#1E90FF" stroke="#1E90FF" stroke-width="0.6"/>
<rect x="503.29" y="194.55" width="4.1" height="4.1" fill="#000000" stroke="#000000" stroke-width="0.6"/>
<polygon points="505.34,162.55 508.29,165.50 505.34,168.45 502.39,165.50" fill="none" stroke="#008000" stroke-width="1.0"/>
<circle cx="505.34" cy="174.10" r="2.35" fill="none" stroke="#FF0000" stroke-width="1.0"/>
<polygon points="505.34,177.15 502.34,182.25 508.34,182.25" fill="none" stroke="#1E90FF" stroke-width="1.0"/>
<rect x="503.39" y="191.55" width="3.9" height="3.9" fill="none" stroke="#000000" stroke-width="0.85"/>
<polygon points="524.99,144.70 527.84,146.77 526.75,150.13 523.23,150.13 522.14,146.77" fill="#0000FF" stroke="#0000FF" stroke-width="0.6"/>
<polygon points="524.99,157.45 521.99,152.35 527.99,152.35" fill="#FF00FF" stroke="#FF00FF" stroke-width="0.6"/>
<polygon points="524.99,156.90 527.99,159.90 524.99,162.90 521.99,159.90" fill="#008000" stroke="#008000" stroke-width="0.6"/>
<circle cx="524.99" cy="175.90" r="2.35" fill="#FF0000" stroke="#FF0000" stroke-width="0.6"/>
<polygon points="524.99,173.65 521.99,178.75 527.99,178.75" fill="#1E90FF" stroke="#1E90FF" stroke-width="0.6"/>
<rect x="522.94" y="188.35" width="4.1" height="4.1" fill="#000000" stroke="#000000" stroke-width="0.6"/>
<polygon points="524.99,139.95 527.51,141.78 526.55,144.74 523.43,144.74 522.47,141.78" fill="none" stroke="#0000FF" stroke-width="1.0"/>
<polygon points="524.99,154.55 521.99,149.45 527.99,149.45" fill="none" stroke="#FF00FF" stroke-width="1.0"/>
<polygon points="524.99,154.55 527.94,157.50 524.99,160.45 522.04,157.50" fill="none" stroke="#008000" stroke-width="1.0"/>
<circle cx="524.99" cy="169.90" r="2.35" fill="none" stroke="#FF0000" stroke-width="1.0"/>
<polygon points="545.97,137.60 548.82,139.67 547.73,143.03 544.21,143.03 543.12,139.67" fill="#0000FF" stroke="#0000FF" stroke-width="0.6"/>
<polygon points="545.97,151.05 542.97,145.95 548.97,145.95" fill="#FF00FF" stroke="#FF00FF" stroke-width="0.6"/>
<polygon points="545.97,149.20 548.97,152.20 545.97,155.20 542.97,152.20" fill="#008000" stroke="#008000" stroke-width="0.6"/>
<circle cx="545.97" cy="168.00" r="2.35" fill="#FF0000" stroke="#FF0000" stroke-width="0.6"/>
<polygon points="545.97,167.25 542.97,172.35 548.97,172.35" fill="#1E90FF" stroke="#1E90FF" stroke-width="0.6"/>
<rect x="543.92" y="183.75" width="4.1" height="4.1" fill="#000000" stroke="#000000" stroke-width="0.6"/>
<polygon points="545.97,147.65 542.97,142.55 548.97,142.55" fill="none" stroke="#FF00FF" stroke-width="1.0"/>
<circle cx="545.97" cy="159.50" r="2.35" fill="none" stroke="#FF0000" stroke-width="1.0"/>
<rect x="544.02" y="179.45" width="3.9" height="3.9" fill="none" stroke="#000000" stroke-width="0.85"/>
<polygon points="568.73,126.30 571.58,128.37 570.49,131.73 566.96,131.73 565.87,128.37" fill="#0000FF" stroke="#0000FF" stroke-width="0.6"/>
<polygon points="568.73,146.65 565.73,141.55 571.73,141.55" fill="#FF00FF" stroke="#FF00FF" stroke-width="0.6"/>
<polygon points="568.73,146.60 571.73,149.60 568.73,152.60 565.73,149.60" fill="#008000" stroke="#008000" stroke-width="0.6"/>
<circle cx="568.73" cy="161.80" r="2.35" fill="#FF0000" stroke="#FF0000" stroke-width="0.6"/>
<polygon points="568.73,163.65 565.73,168.75 571.73,168.75" fill="#1E90FF" stroke="#1E90FF" stroke-width="0.6"/>
<rect x="566.68" y="180.45" width="4.1" height="4.1" fill="#000000" stroke="#000000" stroke-width="0.6"/>
<polygon points="568.73,143.85 565.73,138.75 571.73,138.75" fill="none" stroke="#FF00FF" stroke-width="1.0"/>
<circle cx="568.73" cy="155.40" r="2.35" fill="none" stroke="#FF0000" stroke-width="1.0"/>
<rect x="566.77" y="175.15" width="3.9" height="3.9" fill="none" stroke="#000000" stroke-width="0.85"/>
<polygon points="593.40,116.60 596.25,118.67 595.16,122.03 591.64,122.03 590.55,118.67" fill="#0000FF" stroke="#0000FF" stroke-width="0.6"/>
<polygon points="593.40,138.65 590.40,133.55 596.40,133.55" fill="#FF00FF" stroke="#FF00FF" stroke-width="0.6"/>
<polygon points="593.40,135.00 596.40,138.00 593.40,141.00 590.40,138.00" fill="#008000" stroke="#008000" stroke-width="0.6"/>
<circle cx="593.40" cy="143.30" r="2.35" fill="#FF0000" stroke="#FF0000" stroke-width="0.6"/>
<polygon points="593.40,146.05 590.40,151.15 596.40,151.15" fill="#1E90FF" stroke="#1E90FF" stroke-width="0.6"/>
<rect x="591.35" y="169.55" width="4.1" height="4.1" fill="#000000" stroke="#000000" stroke-width="0.6"/>
<polygon points="593.40,120.65 595.92,122.48 594.96,125.44 591.84,125.44 590.88,122.48" fill="none" stroke="#0000FF" stroke-width="1.0"/>
<polygon points="593.40,134.35 590.40,129.25 596.40,129.25" fill="none" stroke="#FF00FF" stroke-width="1.0"/>
<circle cx="593.40" cy="142.40" r="2.35" fill="none" stroke="#FF0000" stroke-width="1.0"/>
<rect x="591.45" y="165.25" width="3.9" height="3.9" fill="none" stroke="#000000" stroke-width="0.85"/>
<polygon points="620.14,107.00 623.00,109.07 621.91,112.43 618.38,112.43 617.29,109.07" fill="#0000FF" stroke="#0000FF" stroke-width="0.6"/>
<polygon points="620.14,130.35 617.14,125.25 623.14,125.25" fill="#FF00FF" stroke="#FF00FF" stroke-width="0.6"/>
<polygon points="620.14,130.50 623.14,133.50 620.14,136.50 617.14,133.50" fill="#008000" stroke="#008000" stroke-width="0.6"/>
<circle cx="620.14" cy="147.60" r="2.35" fill="#FF0000" stroke="#FF0000" stroke-width="0.6"/>
<polygon points="620.14,149.65 617.14,154.75 623.14,154.75" fill="#1E90FF" stroke="#1E90FF" stroke-width="0.6"/>
<rect x="618.09" y="169.35" width="4.1" height="4.1" fill="#000000" stroke="#000000" stroke-width="0.6"/>
<polygon points="620.14,106.15 622.66,107.98 621.70,110.94 618.58,110.94 617.62,107.98" fill="none" stroke="#0000FF" stroke-width="1.0"/>
<polygon points="620.14,126.75 617.14,121.65 623.14,121.65" fill="none" stroke="#FF00FF" stroke-width="1.0"/>
<polygon points="620.14,128.55 623.09,131.50 620.14,134.45 617.19,131.50" fill="none" stroke="#008000" stroke-width="1.0"/>
<circle cx="620.14" cy="138.50" r="2.35" fill="none" stroke="#FF0000" stroke-width="1.0"/>
<rect x="618.19" y="160.35" width="3.9" height="3.9" fill="none" stroke="#000000" stroke-width="0.85"/>
<polygon points="649.25,100.50 652.10,102.57 651.01,105.93 647.49,105.93 646.40,102.57" fill="#0000FF" stroke="#0000FF" stroke-width="0.6"/>
<polygon points="649.25,123.35 646.25,118.25 652.25,118.25" fill="#FF00FF" stroke="#FF00FF" stroke-width="0.6"/>
<polygon points="649.25,125.80 652.25,128.80 649.25,131.80 646.25,128.80" fill="#008000" stroke="#008000" stroke-width="0.6"/>
<circle cx="649.25" cy="141.80" r="2.35" fill="#FF0000" stroke="#FF0000" stroke-width="0.6"/>
<polygon points="649.25,143.95 646.25,149.05 652.25,149.05" fill="#1E90FF" stroke="#1E90FF" stroke-width="0.6"/>
<rect x="647.20" y="166.85" width="4.1" height="4.1" fill="#000000" stroke="#000000" stroke-width="0.6"/>
<polygon points="649.25,100.15 651.77,101.98 650.81,104.94 647.69,104.94 646.73,101.98" fill="none" stroke="#0000FF" stroke-width="1.0"/>
<polygon points="649.25,117.65 646.25,112.55 652.25,112.55" fill="none" stroke="#FF00FF" stroke-width="1.0"/>
<polygon points="649.25,119.25 652.20,122.20 649.25,125.15 646.30,122.20" fill="none" stroke="#008000" stroke-width="1.0"/>
<circle cx="649.25" cy="129.60" r="2.35" fill="none" stroke="#FF0000" stroke-width="1.0"/>
<polygon points="649.25,135.35 646.25,140.45 652.25,140.45" fill="none" stroke="#1E90FF" stroke-width="1.0"/>
<rect x="647.30" y="157.55" width="3.9" height="3.9" fill="none" stroke="#000000" stroke-width="0.85"/>
<polygon points="681.31,84.60 684.16,86.67 683.07,90.03 679.55,90.03 678.46,86.67" fill="#0000FF" stroke="#0000FF" stroke-width="0.6"/>
<polygon points="681.31,112.85 678.31,107.75 684.31,107.75" fill="#FF00FF" stroke="#FF00FF" stroke-width="0.6"/>
<polygon points="681.31,113.50 684.31,116.50 681.31,119.50 678.31,116.50" fill="#008000" stroke="#008000" stroke-width="0.6"/>
<circle cx="681.31" cy="130.30" r="2.35" fill="#FF0000" stroke="#FF0000" stroke-width="0.6"/>
<polygon points="681.31,132.65 678.31,137.75 684.31,137.75" fill="#1E90FF" stroke="#1E90FF" stroke-width="0.6"/>
<rect x="679.26" y="155.25" width="4.1" height="4.1" fill="#000000" stroke="#000000" stroke-width="0.6"/>
<polygon points="681.31,82.35 683.83,84.18 682.87,87.14 679.75,87.14 678.79,84.18" fill="none" stroke="#0000FF" stroke-width="1.0"/>
<polygon points="681.31,106.15 678.31,101.05 684.31,101.05" fill="none" stroke="#FF00FF" stroke-width="1.0"/>
<polygon points="681.31,109.05 684.26,112.00 681.31,114.95 678.36,112.00" fill="none" stroke="#008000" stroke-width="1.0"/>
<circle cx="681.31" cy="118.00" r="2.35" fill="none" stroke="#FF0000" stroke-width="1.0"/>
<polygon points="681.31,130.65 678.31,135.75 684.31,135.75" fill="none" stroke="#1E90FF" stroke-width="1.0"/>
<rect x="679.36" y="143.15" width="3.9" height="3.9" fill="none" stroke="#000000" stroke-width="0.85"/>
<polygon points="716.48,70.30 719.33,72.37 718.24,75.73 714.71,75.73 713.62,72.37" fill="#0000FF" stroke="#0000FF" stroke-width="0.6"/>
<polygon points="716.48,103.95 713.48,98.85 719.48,98.85" fill="#FF00FF" stroke="#FF00FF" stroke-width="0.6"/>
<polygon points="716.48,101.00 719.48,104.00 716.48,107.00 713.48,104.00" fill="#008000" stroke="#008000" stroke-width="0.6"/>
<circle cx="716.48" cy="123.80" r="2.35" fill="#FF0000" stroke="#FF0000" stroke-width="0.6"/>
<polygon points="716.48,132.65 713.48,137.75 719.48,137.75" fill="#1E90FF" stroke="#1E90FF" stroke-width="0.6"/>
<rect x="714.43" y="149.95" width="4.1" height="4.1" fill="#000000" stroke="#000000" stroke-width="0.6"/>
<polygon points="716.48,64.05 719.00,65.88 718.03,68.84 714.92,68.84 713.95,65.88" fill="none" stroke="#0000FF" stroke-width="1.0"/>
<polygon points="716.48,98.85 713.48,93.75 719.48,93.75" fill="none" stroke="#FF00FF" stroke-width="1.0"/>
<polygon points="716.48,102.55 719.43,105.50 716.48,108.45 713.52,105.50" fill="none" stroke="#008000" stroke-width="1.0"/>
<circle cx="716.48" cy="109.80" r="2.35" fill="none" stroke="#FF0000" stroke-width="1.0"/>
<polygon points="716.48,129.65 713.48,134.75 719.48,134.75" fill="none" stroke="#1E90FF" stroke-width="1.0"/>
</g>
<rect x="406.2" y="6.2" width="325.0" height="239.0" fill="none" stroke="#000" stroke-width="1.3"/>
<line x1="420.98" y1="245.2" x2="420.98" y2="240.39999999999998" stroke="#000" stroke-width="1.1"/>
<line x1="420.98" y1="6.2" x2="420.98" y2="11.0" stroke="#000" stroke-width="1.1"/>
<text transform="translate(420.98,258.0) scale(0.97,1.07)" text-anchor="middle" class="tl">3.0</text>
<line x1="435.75" y1="245.2" x2="435.75" y2="242.6" stroke="#000" stroke-width="1.1"/>
<line x1="435.75" y1="6.2" x2="435.75" y2="8.8" stroke="#000" stroke-width="1.1"/>
<line x1="450.53" y1="245.2" x2="450.53" y2="242.6" stroke="#000" stroke-width="1.1"/>
<line x1="450.53" y1="6.2" x2="450.53" y2="8.8" stroke="#000" stroke-width="1.1"/>
<line x1="465.30" y1="245.2" x2="465.30" y2="242.6" stroke="#000" stroke-width="1.1"/>
<line x1="465.30" y1="6.2" x2="465.30" y2="8.8" stroke="#000" stroke-width="1.1"/>
<line x1="480.07" y1="245.2" x2="480.07" y2="242.6" stroke="#000" stroke-width="1.1"/>
<line x1="480.07" y1="6.2" x2="480.07" y2="8.8" stroke="#000" stroke-width="1.1"/>
<line x1="494.85" y1="245.2" x2="494.85" y2="240.39999999999998" stroke="#000" stroke-width="1.1"/>
<line x1="494.85" y1="6.2" x2="494.85" y2="11.0" stroke="#000" stroke-width="1.1"/>
<text transform="translate(494.85,258.0) scale(0.97,1.07)" text-anchor="middle" class="tl">3.5</text>
<line x1="509.62" y1="245.2" x2="509.62" y2="242.6" stroke="#000" stroke-width="1.1"/>
<line x1="509.62" y1="6.2" x2="509.62" y2="8.8" stroke="#000" stroke-width="1.1"/>
<line x1="524.40" y1="245.2" x2="524.40" y2="242.6" stroke="#000" stroke-width="1.1"/>
<line x1="524.40" y1="6.2" x2="524.40" y2="8.8" stroke="#000" stroke-width="1.1"/>
<line x1="539.17" y1="245.2" x2="539.17" y2="242.6" stroke="#000" stroke-width="1.1"/>
<line x1="539.17" y1="6.2" x2="539.17" y2="8.8" stroke="#000" stroke-width="1.1"/>
<line x1="553.95" y1="245.2" x2="553.95" y2="242.6" stroke="#000" stroke-width="1.1"/>
<line x1="553.95" y1="6.2" x2="553.95" y2="8.8" stroke="#000" stroke-width="1.1"/>
<line x1="568.73" y1="245.2" x2="568.73" y2="240.39999999999998" stroke="#000" stroke-width="1.1"/>
<line x1="568.73" y1="6.2" x2="568.73" y2="11.0" stroke="#000" stroke-width="1.1"/>
<text transform="translate(568.73,258.0) scale(0.97,1.07)" text-anchor="middle" class="tl">4.0</text>
<line x1="583.50" y1="245.2" x2="583.50" y2="242.6" stroke="#000" stroke-width="1.1"/>
<line x1="583.50" y1="6.2" x2="583.50" y2="8.8" stroke="#000" stroke-width="1.1"/>
<line x1="598.28" y1="245.2" x2="598.28" y2="242.6" stroke="#000" stroke-width="1.1"/>
<line x1="598.28" y1="6.2" x2="598.28" y2="8.8" stroke="#000" stroke-width="1.1"/>
<line x1="613.05" y1="245.2" x2="613.05" y2="242.6" stroke="#000" stroke-width="1.1"/>
<line x1="613.05" y1="6.2" x2="613.05" y2="8.8" stroke="#000" stroke-width="1.1"/>
<line x1="627.83" y1="245.2" x2="627.83" y2="242.6" stroke="#000" stroke-width="1.1"/>
<line x1="627.83" y1="6.2" x2="627.83" y2="8.8" stroke="#000" stroke-width="1.1"/>
<line x1="642.60" y1="245.2" x2="642.60" y2="240.39999999999998" stroke="#000" stroke-width="1.1"/>
<line x1="642.60" y1="6.2" x2="642.60" y2="11.0" stroke="#000" stroke-width="1.1"/>
<text transform="translate(642.60,258.0) scale(0.97,1.07)" text-anchor="middle" class="tl">4.5</text>
<line x1="657.38" y1="245.2" x2="657.38" y2="242.6" stroke="#000" stroke-width="1.1"/>
<line x1="657.38" y1="6.2" x2="657.38" y2="8.8" stroke="#000" stroke-width="1.1"/>
<line x1="672.15" y1="245.2" x2="672.15" y2="242.6" stroke="#000" stroke-width="1.1"/>
<line x1="672.15" y1="6.2" x2="672.15" y2="8.8" stroke="#000" stroke-width="1.1"/>
<line x1="686.92" y1="245.2" x2="686.92" y2="242.6" stroke="#000" stroke-width="1.1"/>
<line x1="686.92" y1="6.2" x2="686.92" y2="8.8" stroke="#000" stroke-width="1.1"/>
<line x1="701.70" y1="245.2" x2="701.70" y2="242.6" stroke="#000" stroke-width="1.1"/>
<line x1="701.70" y1="6.2" x2="701.70" y2="8.8" stroke="#000" stroke-width="1.1"/>
<line x1="716.48" y1="245.2" x2="716.48" y2="240.39999999999998" stroke="#000" stroke-width="1.1"/>
<line x1="716.48" y1="6.2" x2="716.48" y2="11.0" stroke="#000" stroke-width="1.1"/>
<text transform="translate(716.48,258.0) scale(0.97,1.07)" text-anchor="middle" class="tl">5.0</text>
<text transform="translate(400.20,248.90) scale(0.92,1.13)" text-anchor="end" class="tly"><tspan dy="-0.6">-</tspan><tspan dy="0.6">4</tspan></text>
<line x1="406.2" y1="233.25" x2="408.8" y2="233.25" stroke="#000" stroke-width="1.1"/>
<line x1="731.2" y1="233.25" x2="728.6" y2="233.25" stroke="#000" stroke-width="1.1"/>
<line x1="406.2" y1="221.30" x2="408.8" y2="221.30" stroke="#000" stroke-width="1.1"/>
<line x1="731.2" y1="221.30" x2="728.6" y2="221.30" stroke="#000" stroke-width="1.1"/>
<line x1="406.2" y1="209.35" x2="408.8" y2="209.35" stroke="#000" stroke-width="1.1"/>
<line x1="731.2" y1="209.35" x2="728.6" y2="209.35" stroke="#000" stroke-width="1.1"/>
<line x1="406.2" y1="197.40" x2="408.8" y2="197.40" stroke="#000" stroke-width="1.1"/>
<line x1="731.2" y1="197.40" x2="728.6" y2="197.40" stroke="#000" stroke-width="1.1"/>
<line x1="406.2" y1="185.45" x2="411.0" y2="185.45" stroke="#000" stroke-width="1.1"/>
<line x1="731.2" y1="185.45" x2="726.4000000000001" y2="185.45" stroke="#000" stroke-width="1.1"/>
<text transform="translate(400.20,189.15) scale(0.92,1.13)" text-anchor="end" class="tly"><tspan dy="-0.6">-</tspan><tspan dy="0.6">3</tspan></text>
<line x1="406.2" y1="173.50" x2="408.8" y2="173.50" stroke="#000" stroke-width="1.1"/>
<line x1="731.2" y1="173.50" x2="728.6" y2="173.50" stroke="#000" stroke-width="1.1"/>
<line x1="406.2" y1="161.55" x2="408.8" y2="161.55" stroke="#000" stroke-width="1.1"/>
<line x1="731.2" y1="161.55" x2="728.6" y2="161.55" stroke="#000" stroke-width="1.1"/>
<line x1="406.2" y1="149.60" x2="408.8" y2="149.60" stroke="#000" stroke-width="1.1"/>
<line x1="731.2" y1="149.60" x2="728.6" y2="149.60" stroke="#000" stroke-width="1.1"/>
<line x1="406.2" y1="137.65" x2="408.8" y2="137.65" stroke="#000" stroke-width="1.1"/>
<line x1="731.2" y1="137.65" x2="728.6" y2="137.65" stroke="#000" stroke-width="1.1"/>
<line x1="406.2" y1="125.70" x2="411.0" y2="125.70" stroke="#000" stroke-width="1.1"/>
<line x1="731.2" y1="125.70" x2="726.4000000000001" y2="125.70" stroke="#000" stroke-width="1.1"/>
<text transform="translate(400.20,129.40) scale(0.92,1.13)" text-anchor="end" class="tly"><tspan dy="-0.6">-</tspan><tspan dy="0.6">2</tspan></text>
<line x1="406.2" y1="113.75" x2="408.8" y2="113.75" stroke="#000" stroke-width="1.1"/>
<line x1="731.2" y1="113.75" x2="728.6" y2="113.75" stroke="#000" stroke-width="1.1"/>
<line x1="406.2" y1="101.80" x2="408.8" y2="101.80" stroke="#000" stroke-width="1.1"/>
<line x1="731.2" y1="101.80" x2="728.6" y2="101.80" stroke="#000" stroke-width="1.1"/>
<line x1="406.2" y1="89.85" x2="408.8" y2="89.85" stroke="#000" stroke-width="1.1"/>
<line x1="731.2" y1="89.85" x2="728.6" y2="89.85" stroke="#000" stroke-width="1.1"/>
<line x1="406.2" y1="77.90" x2="408.8" y2="77.90" stroke="#000" stroke-width="1.1"/>
<line x1="731.2" y1="77.90" x2="728.6" y2="77.90" stroke="#000" stroke-width="1.1"/>
<line x1="406.2" y1="65.95" x2="411.0" y2="65.95" stroke="#000" stroke-width="1.1"/>
<line x1="731.2" y1="65.95" x2="726.4000000000001" y2="65.95" stroke="#000" stroke-width="1.1"/>
<text transform="translate(400.20,69.65) scale(0.92,1.13)" text-anchor="end" class="tly"><tspan dy="-0.6">-</tspan><tspan dy="0.6">1</tspan></text>
<line x1="406.2" y1="54.00" x2="408.8" y2="54.00" stroke="#000" stroke-width="1.1"/>
<line x1="731.2" y1="54.00" x2="728.6" y2="54.00" stroke="#000" stroke-width="1.1"/>
<line x1="406.2" y1="42.05" x2="408.8" y2="42.05" stroke="#000" stroke-width="1.1"/>
<line x1="731.2" y1="42.05" x2="728.6" y2="42.05" stroke="#000" stroke-width="1.1"/>
<line x1="406.2" y1="30.10" x2="408.8" y2="30.10" stroke="#000" stroke-width="1.1"/>
<line x1="731.2" y1="30.10" x2="728.6" y2="30.10" stroke="#000" stroke-width="1.1"/>
<line x1="406.2" y1="18.15" x2="408.8" y2="18.15" stroke="#000" stroke-width="1.1"/>
<line x1="731.2" y1="18.15" x2="728.6" y2="18.15" stroke="#000" stroke-width="1.1"/>
<text transform="translate(400.20,9.90) scale(0.92,1.13)" text-anchor="end" class="tly">0</text>
<rect x="40.4" y="14.4" width="52" height="104.2" fill="#fff" stroke="#000" stroke-width="1"/>
<rect x="48.55" y="16.85" width="4.1" height="4.1" fill="#000000" stroke="#000000" stroke-width="0.6"/>
<text transform="translate(59.5,21.20) scale(1,1.13)" class="lg">MeOH.MSD</text>
<polygon points="50.60,24.05 47.60,29.15 53.60,29.15" fill="#1E90FF" stroke="#1E90FF" stroke-width="0.6"/>
<text transform="translate(59.5,29.20) scale(1,1.13)" class="lg">EtOH.MSD</text>
<circle cx="50.60" cy="34.90" r="2.35" fill="#FF0000" stroke="#FF0000" stroke-width="0.6"/>
<text transform="translate(59.5,37.20) scale(1,1.13)" class="lg">PrOH.MSD</text>
<polygon points="50.60,39.90 53.60,42.90 50.60,45.90 47.60,42.90" fill="#008000" stroke="#008000" stroke-width="0.6"/>
<text transform="translate(59.5,45.20) scale(1,1.13)" class="lg">BuOH.MSD</text>
<polygon points="50.60,53.75 47.60,48.65 53.60,48.65" fill="#FF00FF" stroke="#FF00FF" stroke-width="0.6"/>
<text transform="translate(59.5,53.20) scale(1,1.13)" class="lg">PeOH.MSD</text>
<polygon points="50.60,56.20 53.45,58.27 52.36,61.63 48.84,61.63 47.75,58.27" fill="#0000FF" stroke="#0000FF" stroke-width="0.6"/>
<text transform="translate(59.5,61.20) scale(1,1.13)" class="lg">HxOH.MSD</text>
<rect x="48.65" y="64.95" width="3.9" height="3.9" fill="none" stroke="#000000" stroke-width="0.85"/>
<text transform="translate(59.5,69.20) scale(1,1.13)" class="lg">MeOH.GK</text>
<polygon points="50.60,72.05 47.60,77.15 53.60,77.15" fill="none" stroke="#1E90FF" stroke-width="1.0"/>
<text transform="translate(59.5,77.20) scale(1,1.13)" class="lg">EtOH.GK</text>
<circle cx="50.60" cy="82.90" r="2.35" fill="none" stroke="#FF0000" stroke-width="1.0"/>
<text transform="translate(59.5,85.20) scale(1,1.13)" class="lg">PrOH.GK</text>
<polygon points="50.60,87.95 53.55,90.90 50.60,93.85 47.65,90.90" fill="none" stroke="#008000" stroke-width="1.0"/>
<text transform="translate(59.5,93.20) scale(1,1.13)" class="lg">BuOH.GK</text>
<polygon points="50.60,101.75 47.60,96.65 53.60,96.65" fill="none" stroke="#FF00FF" stroke-width="1.0"/>
<text transform="translate(59.5,101.20) scale(1,1.13)" class="lg">PeOH.GK</text>
<polygon points="50.60,104.55 53.12,106.38 52.16,109.34 49.04,109.34 48.08,106.38" fill="none" stroke="#0000FF" stroke-width="1.0"/>
<text transform="translate(59.5,109.20) scale(1,1.13)" class="lg">HxOH.GK</text>
<text transform="translate(43.6,117.20) scale(1,1.13)" class="lg">lines: Exp.</text>
<rect x="415.29999999999995" y="14.4" width="52" height="104.2" fill="#fff" stroke="#000" stroke-width="1"/>
<rect x="423.45" y="16.85" width="4.1" height="4.1" fill="#000000" stroke="#000000" stroke-width="0.6"/>
<text transform="translate(434.4,21.20) scale(1,1.13)" class="lg">MeOH.MSD</text>
<polygon points="425.50,24.05 422.50,29.15 428.50,29.15" fill="#1E90FF" stroke="#1E90FF" stroke-width="0.6"/>
<text transform="translate(434.4,29.20) scale(1,1.13)" class="lg">EtOH.MSD</text>
<circle cx="425.50" cy="34.90" r="2.35" fill="#FF0000" stroke="#FF0000" stroke-width="0.6"/>
<text transform="translate(434.4,37.20) scale(1,1.13)" class="lg">PrOH.MSD</text>
<polygon points="425.50,39.90 428.50,42.90 425.50,45.90 422.50,42.90" fill="#008000" stroke="#008000" stroke-width="0.6"/>
<text transform="translate(434.4,45.20) scale(1,1.13)" class="lg">BuOH.MSD</text>
<polygon points="425.50,53.75 422.50,48.65 428.50,48.65" fill="#FF00FF" stroke="#FF00FF" stroke-width="0.6"/>
<text transform="translate(434.4,53.20) scale(1,1.13)" class="lg">PeOH.MSD</text>
<polygon points="425.50,56.20 428.35,58.27 427.26,61.63 423.74,61.63 422.65,58.27" fill="#0000FF" stroke="#0000FF" stroke-width="0.6"/>
<text transform="translate(434.4,61.20) scale(1,1.13)" class="lg">HxOH.MSD</text>
<rect x="423.55" y="64.95" width="3.9" height="3.9" fill="none" stroke="#000000" stroke-width="0.85"/>
<text transform="translate(434.4,69.20) scale(1,1.13)" class="lg">MeOH.GK</text>
<polygon points="425.50,72.05 422.50,77.15 428.50,77.15" fill="none" stroke="#1E90FF" stroke-width="1.0"/>
<text transform="translate(434.4,77.20) scale(1,1.13)" class="lg">EtOH.GK</text>
<circle cx="425.50" cy="82.90" r="2.35" fill="none" stroke="#FF0000" stroke-width="1.0"/>
<text transform="translate(434.4,85.20) scale(1,1.13)" class="lg">PrOH.GK</text>
<polygon points="425.50,87.95 428.45,90.90 425.50,93.85 422.55,90.90" fill="none" stroke="#008000" stroke-width="1.0"/>
<text transform="translate(434.4,93.20) scale(1,1.13)" class="lg">BuOH.GK</text>
<polygon points="425.50,101.75 422.50,96.65 428.50,96.65" fill="none" stroke="#FF00FF" stroke-width="1.0"/>
<text transform="translate(434.4,101.20) scale(1,1.13)" class="lg">PeOH.GK</text>
<polygon points="425.50,104.55 428.02,106.38 427.06,109.34 423.94,109.34 422.98,106.38" fill="none" stroke="#0000FF" stroke-width="1.0"/>
<text transform="translate(434.4,109.20) scale(1,1.13)" class="lg">HxOH.GK</text>
<text transform="translate(418.49999999999994,117.20) scale(1,1.13)" class="lg">lines: Exp.</text>
<rect x="112.3" y="16.5" width="68.4" height="21.8" fill="#fff" stroke="#000" stroke-width="1"/>
<text x="146.5" y="32.8" text-anchor="middle" class="tt">OPLS-AA</text>
<rect x="487.4" y="16.5" width="79" height="21.8" fill="#fff" stroke="#000" stroke-width="1"/>
<text x="526.9" y="32.8" text-anchor="middle" class="tt">TraPPE-UA</text>
<text x="340.6" y="25.3" text-anchor="middle" class="tg">(a)</text>
<text x="716.4" y="25.3" text-anchor="middle" class="tg">(b)</text>
<text x="158.9" y="272.8" class="al">10<tspan class="sup" dy="-5">-3</tspan><tspan dy="5" font-style="italic">T</tspan><tspan class="sup" dx="2" dy="-5">-1</tspan><tspan dx="1" dy="5">(K</tspan><tspan class="sup" dy="-5">-1</tspan><tspan dy="5">)</tspan></text>
<text transform="translate(12.0,168.4) rotate(-90)" class="al">log<tspan class="sub" dy="3">10</tspan><tspan dy="-3">(</tspan><tspan font-style="italic">η</tspan><tspan> (Pa.s))</tspan></text>
<text x="533.8" y="272.8" class="al">10<tspan class="sup" dy="-5">-3</tspan><tspan dy="5" font-style="italic">T</tspan><tspan class="sup" dx="2" dy="-5">-1</tspan><tspan dx="1" dy="5">(K</tspan><tspan class="sup" dy="-5">-1</tspan><tspan dy="5">)</tspan></text>
<text transform="translate(386.9,168.4) rotate(-90)" class="al">log<tspan class="sub" dy="3">10</tspan><tspan dy="-3">(</tspan><tspan font-style="italic">η</tspan><tspan> (Pa.s))</tspan></text>
</svg>
</body></html>
